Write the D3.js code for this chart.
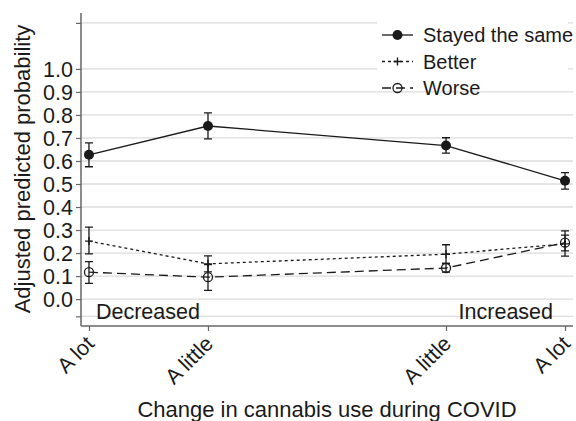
<!DOCTYPE html>
<html>
<head>
<meta charset="utf-8">
<script src="https://cdn.jsdelivr.net/npm/d3@7"></script>
<style>
  html, body { margin: 0; padding: 0; background: #fff; }
  svg { display: block; font-family: "Liberation Sans", Arial, sans-serif; }
</style>
</head>
<body>
<svg id="chart" width="576" height="421"></svg>
<script>
// Categories along the x axis (position, label)
const categories = ["A lot", "A little", "A little", "A lot"];
const catPos = [1, 2, 4, 5];

// Adjusted predicted probabilities with 95% CI, per outcome
const stayedValue = [0.627, 0.752, 0.667, 0.514];
const stayedLow   = [0.575, 0.696, 0.634, 0.478];
const stayedHigh  = [0.679, 0.809, 0.701, 0.549];

const betterValue = [0.252, 0.153, 0.195, 0.240];
const betterLow   = [0.196, 0.118, 0.155, 0.187];
const betterHigh  = [0.313, 0.188, 0.236, 0.296];

const worseValue  = [0.117, 0.095, 0.135, 0.245];
const worseLow    = [0.068, 0.038, 0.117, 0.209];
const worseHigh   = [0.163, 0.150, 0.155, 0.278];

// Y axis ticks: labelled and unlabelled
const yTicks = [0, 0.1, 0.2, 0.3, 0.4, 0.5, 0.6, 0.7, 0.8, 0.9, 1.0];
const yExtraTicks = [-0.075, 1.2];

const seriesNames = ["Stayed the same", "Better", "Worse"];
const groupLabels = ["Decreased", "Increased"];

const svg = d3.select("#chart");
const plotLeft = 81, plotRight = 573, plotTop = 13, plotBottom = 326;

const x = d3.scaleLinear().domain([0.933, 5.067]).range([plotLeft, plotRight]);
const y = d3.scaleLinear().domain([-0.117, 1.243]).range([plotBottom, plotTop]);

const ink = "#1a1a1a";
const axisColor = "#666";

// Gridlines
const allTicks = yExtraTicks.concat(yTicks);
svg.append("g").selectAll("line").data(allTicks).join("line")
  .attr("x1", plotLeft).attr("x2", plotRight)
  .attr("y1", d => y(d)).attr("y2", d => y(d))
  .attr("stroke", "#dcdcdc").attr("stroke-width", 1.3);

// Y axis
const yAxis = d3.axisLeft(y).tickValues(allTicks).tickSize(5)
  .tickFormat(d => yTicks.includes(d) ? d3.format(".1f")(d) : "");
const gy = svg.append("g").attr("transform", `translate(${plotLeft},0)`).call(yAxis);
gy.select(".domain").remove();
gy.selectAll(".tick line").attr("stroke", axisColor).attr("stroke-width", 1.2);
gy.selectAll(".tick text").attr("fill", ink).attr("font-size", 21.5)
  .attr("x", -8).attr("dy", "0.36em");
svg.append("line").attr("x1", plotLeft).attr("x2", plotLeft).attr("y1", plotTop).attr("y2", plotBottom)
  .attr("stroke", axisColor).attr("stroke-width", 1.5);

// X axis with rotated category labels
const xAxis = d3.axisBottom(x).tickValues(catPos).tickSize(5)
  .tickFormat((d, i) => categories[i]);
const gx = svg.append("g").attr("transform", `translate(0,${plotBottom})`).call(xAxis);
gx.select(".domain").remove();
gx.selectAll(".tick line").attr("stroke", axisColor).attr("stroke-width", 1.2);
gx.selectAll(".tick text").attr("fill", ink).attr("font-size", 21.5)
  .attr("text-anchor", "end")
  .attr("transform", "translate(6,19) rotate(-45)")
  .attr("y", 0).attr("dy", 0);
svg.append("line").attr("x1", plotLeft).attr("x2", plotRight).attr("y1", plotBottom).attr("y2", plotBottom)
  .attr("stroke", axisColor).attr("stroke-width", 1.5);

// Group labels inside plot
svg.append("text").attr("x", x(1) + 7).attr("y", 319).attr("font-size", 21.5)
  .attr("fill", ink).text(groupLabels[0]);
svg.append("text").attr("x", x(5) - 12).attr("y", 319).attr("font-size", 21.5)
  .attr("text-anchor", "end").attr("fill", ink).text(groupLabels[1]);

// Series drawing
const series = [
  { name: seriesNames[0], v: stayedValue, lo: stayedLow, hi: stayedHigh, dash: null, marker: "dot" },
  { name: seriesNames[1], v: betterValue, lo: betterLow, hi: betterHigh, dash: "3,3", marker: "plus" },
  { name: seriesNames[2], v: worseValue, lo: worseLow, hi: worseHigh, dash: "9,5", marker: "ring" }
];

const line = d3.line().x(d => x(d[0])).y(d => y(d[1]));

function drawMarker(g, kind, cx, cy) {
  if (kind === "dot") {
    g.append("circle").attr("cx", cx).attr("cy", cy).attr("r", 5).attr("fill", ink);
  } else if (kind === "plus") {
    g.append("path").attr("d", `M${cx - 4},${cy}H${cx + 4}M${cx},${cy - 4}V${cy + 4}`)
      .attr("stroke", ink).attr("stroke-width", 1.4);
  } else {
    g.append("circle").attr("cx", cx).attr("cy", cy).attr("r", 4.5)
      .attr("fill", "none").attr("stroke", ink).attr("stroke-width", 1.3);
  }
}

series.slice().reverse().forEach(s => {
  const g = svg.append("g");
  const pts = catPos.map((p, i) => [p, s.v[i]]);
  g.append("path").attr("d", line(pts)).attr("fill", "none")
    .attr("stroke", ink).attr("stroke-width", 1.3)
    .attr("stroke-dasharray", s.dash);
  catPos.forEach((p, i) => {
    const cx = x(p), y0 = y(s.lo[i]), y1 = y(s.hi[i]);
    g.append("path")
      .attr("d", `M${cx},${y0}V${y1}M${cx - 4},${y0}H${cx + 4}M${cx - 4},${y1}H${cx + 4}`)
      .attr("stroke", ink).attr("stroke-width", 1.3).attr("fill", "none");
    drawMarker(g, s.marker, cx, y(s.v[i]));
  });
});

// Legend
const lg = svg.append("g");
lg.append("rect").attr("x", 377).attr("y", 14).attr("width", 191).attr("height", 77).attr("fill", "#fff");
series.forEach((s, i) => {
  const ly = 35 + i * 26.5;
  lg.append("line").attr("x1", 382).attr("x2", 413).attr("y1", ly).attr("y2", ly)
    .attr("stroke", ink).attr("stroke-width", 1.3).attr("stroke-dasharray", s.dash);
  drawMarker(lg, s.marker, 397.5, ly);
  lg.append("text").attr("x", 423).attr("y", ly).attr("dy", "0.36em")
    .attr("font-size", 20).attr("fill", ink).text(s.name);
});

// Axis titles
svg.append("text").attr("x", 327).attr("y", 417).attr("text-anchor", "middle")
  .attr("font-size", 22).attr("fill", ink).text("Change in cannabis use during COVID");
svg.append("text").attr("transform", "translate(30,169) rotate(-90)")
  .attr("text-anchor", "middle").attr("font-size", 22).attr("fill", ink)
  .text("Adjusted predicted probability");
</script>
</body>
</html>
